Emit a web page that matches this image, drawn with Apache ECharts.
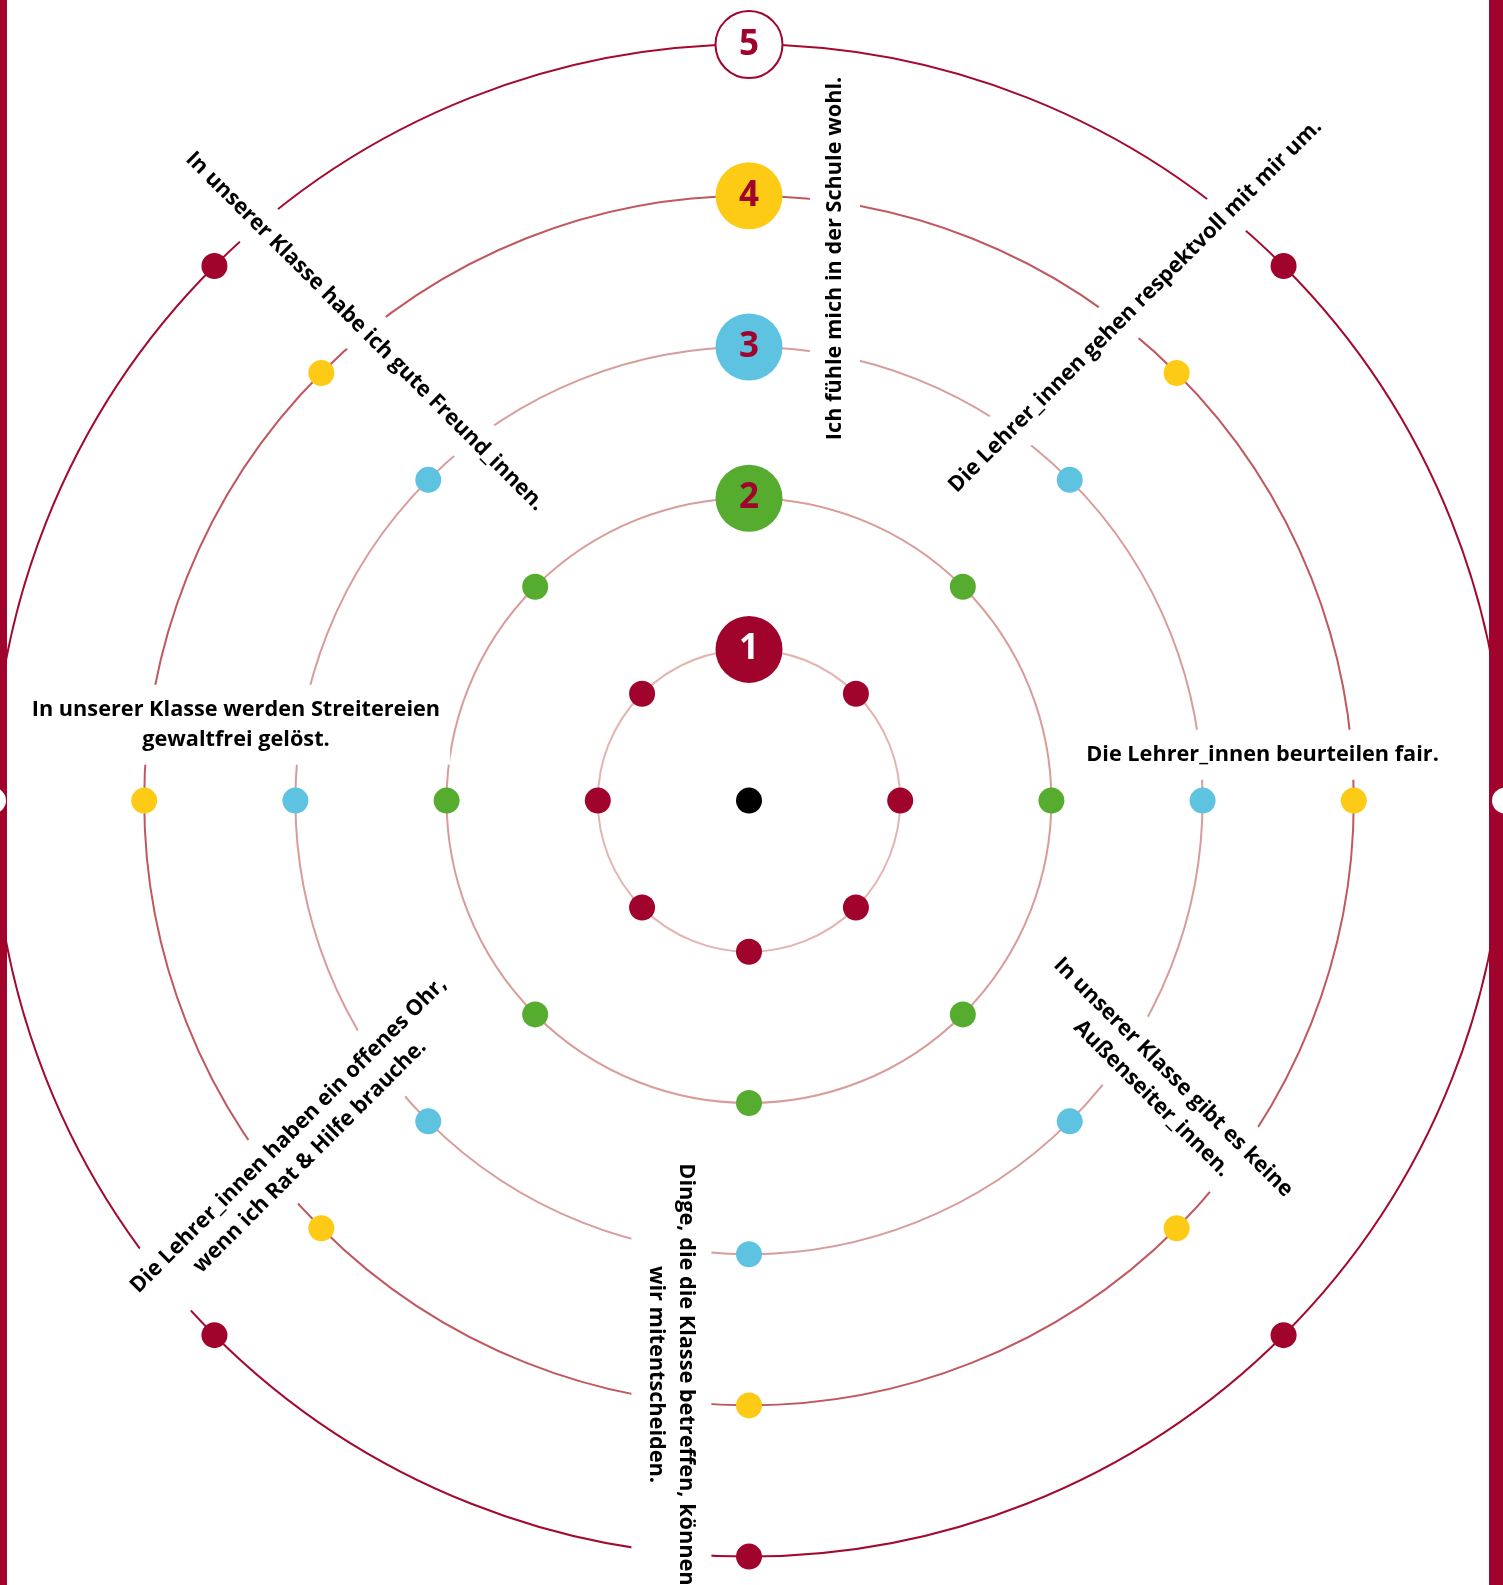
<!DOCTYPE html>
<html><head><meta charset="utf-8">
<script src="https://cdn.jsdelivr.net/npm/echarts@6/dist/echarts.min.js"></script>
<style>html,body{margin:0;padding:0;background:#fff;overflow:hidden}#c{width:1503px;height:1585px}</style>
</head><body><div id="c"></div>
<script>
// ---- data ----
const levels = [1, 2, 3, 4, 5];
const axisAngles = [0, 45, 90, 135, 180, 225, 270, 315];
const levelColors = ['#a0042c', '#56ac2f', '#5ec3e0', '#fdca16', '#a0042c'];
const badgeFill = ['#a0042c', '#56ac2f', '#5ec3e0', '#fdca16', '#ffffff'];
const badgeText = ['#ffffff', '#a0042c', '#a0042c', '#a0042c', '#a0042c'];
const ringColors = ['#ffffff', '#e3b4b1', '#d89c9a', '#d79c9b', '#c0585f', '#a20a30'];
const questions = [
  'Ich fühle mich in der Schule wohl.',
  'Die Lehrer_innen gehen respektvoll mit mir um.',
  'Die Lehrer_innen beurteilen fair.',
  'In unserer Klasse gibt es keine\nAußenseiter_innen.',
  'Dinge, die die Klasse betreffen, können\nwir mitentscheiden.',
  'Die Lehrer_innen haben ein offenes Ohr,\nwenn ich Rat & Hilfe brauche.',
  'In unserer Klasse werden Streitereien\ngewaltfrei gelöst.',
  'In unserer Klasse habe ich gute Freund_innen.'
];
const labelRadius = [3.63, 4.15, 3.41, 3.33, 3.83, 3.75, 3.43, 4.01];
const labelAngle  = [9.0, 38.0, 84.9, 124.8, 187.7, 232.5, 278.4, 320.7];
const labelRotate = [90, 45, 0, -45, -90, 45, 0, -45];
const edgeDotAngles = [90, 270]; // outer dots sitting under the page border, drawn white

// ---- chart ----
const chart = echarts.init(document.getElementById('c'), null, {renderer: 'canvas'});

const dotSeries = levels.map((lv, i) => ({
  type: 'scatter', coordinateSystem: 'polar', symbol: 'circle', symbolSize: 26, z: 3,
  silent: true,
  data: axisAngles.filter(a => a !== 0).map(a => ({
    value: [lv, a],
    itemStyle: {opacity: 1, color: (lv === 5 && edgeDotAngles.includes(a)) ? '#ffffff' : levelColors[i]}
  }))
}));

const badgeSeries = {
  type: 'scatter', coordinateSystem: 'polar', symbol: 'circle', symbolSize: 67, z: 4, silent: true,
  data: levels.map((lv, i) => ({
    value: [lv, 0],
    itemStyle: {opacity: 1, color: badgeFill[i], borderColor: levelColors[i], borderWidth: lv === 5 ? 2 : 0},
    label: {color: badgeText[i]}
  })),
  label: {
    show: true, position: 'inside', formatter: p => String(p.value[0]),
    fontFamily: 'Open Sans', fontWeight: 'bold', fontSize: 35, opacity: 1
  }
};

const centerSeries = {
  type: 'scatter', coordinateSystem: 'polar', symbol: 'circle', symbolSize: 26, z: 3, silent: true,
  data: [[0, 0]], itemStyle: {color: '#000000', opacity: 1}
};

const labelSeries = {
  type: 'scatter', coordinateSystem: 'polar', symbolSize: 0, z: 2, silent: true,
  itemStyle: {color: 'transparent', opacity: 1},
  data: questions.map((q, i) => ({
    value: [labelRadius[i], labelAngle[i]], name: q,
    label: {rotate: labelRotate[i]}
  })),
  label: {
    show: true, position: 'inside', formatter: '{b}', align: 'center', verticalAlign: 'middle',
    fontFamily: 'Open Sans', fontWeight: 'bold', fontSize: 21.7, lineHeight: 30, color: '#000000',
    backgroundColor: '#ffffff', padding: [10, 10], opacity: 1
  },
  labelLayout: {hideOverlap: false}
};

chart.setOption({
  animation: false,
  backgroundColor: '#ffffff',
  polar: {center: [749, 800.6], radius: 756},
  angleAxis: {
    type: 'value', min: 0, max: 360, startAngle: 90, clockwise: true,
    axisLine: {show: false}, axisTick: {show: false}, axisLabel: {show: false}, splitLine: {show: false}
  },
  radiusAxis: {
    type: 'value', min: 0, max: 5, interval: 1,
    axisLine: {show: false}, axisTick: {show: false}, axisLabel: {show: false},
    splitLine: {show: true, lineStyle: {color: ringColors, width: 2}}
  },
  graphic: [
    {type: 'rect', z: 1, shape: {x: 0, y: 0, width: 7, height: 1585}, style: {fill: '#a0042c'}},
    {type: 'rect', z: 1, shape: {x: 1489, y: 0, width: 14, height: 1585}, style: {fill: '#a0042c'}}
  ],
  series: [labelSeries, ...dotSeries, badgeSeries, centerSeries]
});
</script></body></html>
